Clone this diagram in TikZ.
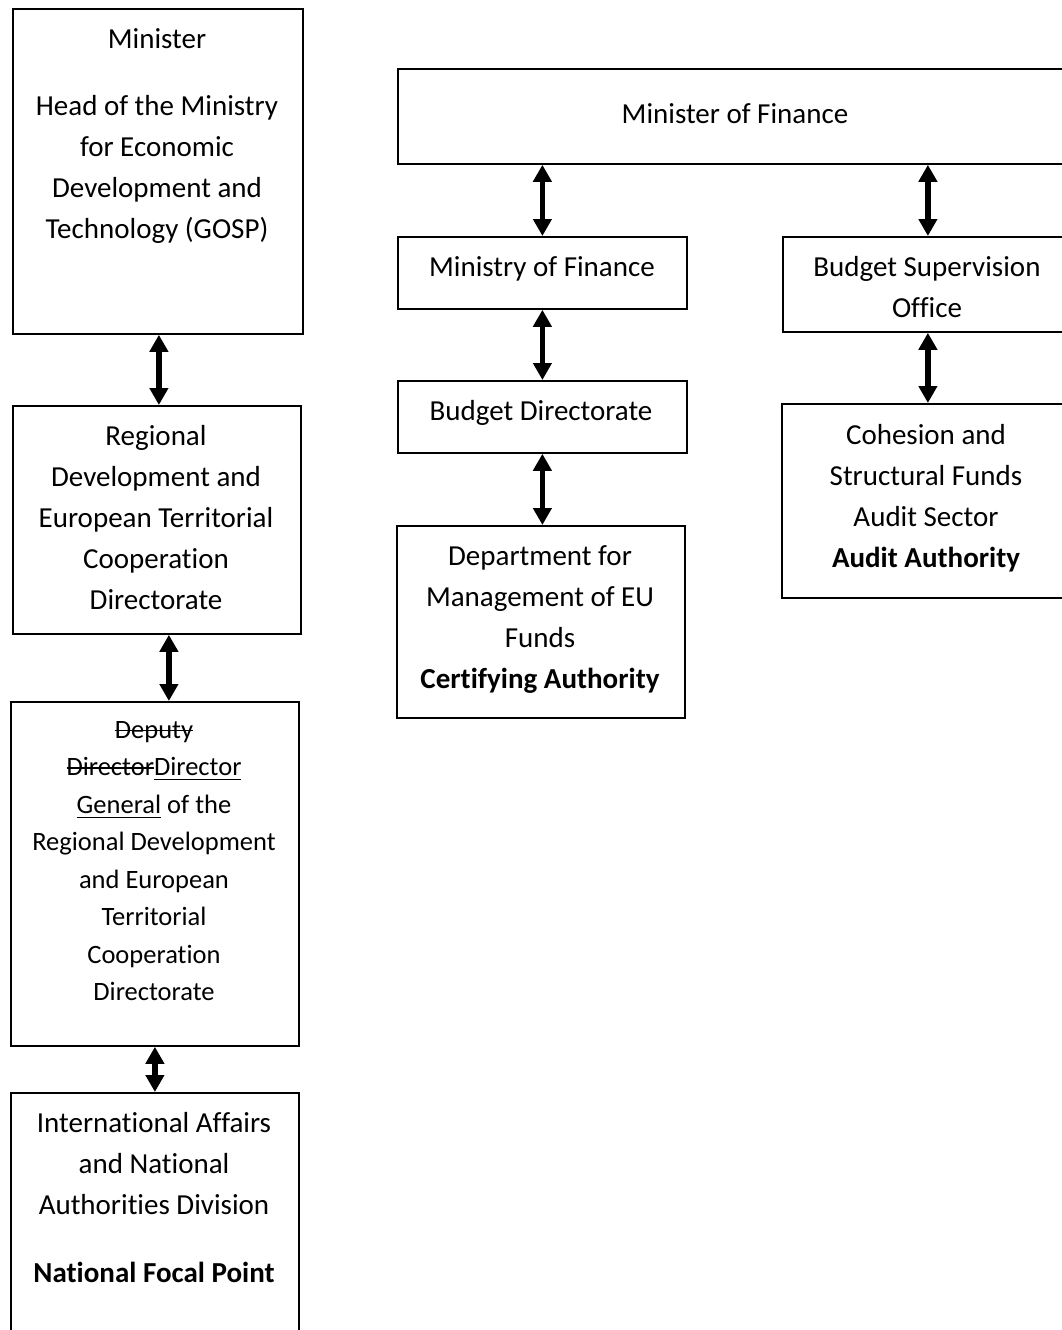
\documentclass[tikz,border=0pt]{standalone}
\usepackage{fontspec}
\setmainfont{Carlito}[Ligatures=NoCommon]
\usetikzlibrary{arrows.meta}
\newcommand{\FL}{\rule{0pt}{30pt}}
\newsavebox{\markbox}
\newcommand{\strk}[1]{\sbox{\markbox}{#1}\rlap{\rule[0.27em]{\wd\markbox}{1.3pt}}\usebox{\markbox}}
\newcommand{\undl}[1]{\sbox{\markbox}{#1}\rlap{\rule[-0.17em]{\wd\markbox}{1.2pt}}\usebox{\markbox}}
\begin{document}
\begin{tikzpicture}[x=1pt,y=-1pt,
  box/.style={draw=black, line width=1.8pt, fill=white, inner sep=0pt, anchor=north west},
  txt/.style={font=\fontsize{29}{41}\selectfont, align=center, inner sep=0pt, anchor=north},
  txts/.style={font=\fontsize{26.5}{37.5}\selectfont, align=center, inner sep=0pt, anchor=north},
  arr/.style={line width=5.5pt, {Triangle[width=18pt,length=17pt]}-{Triangle[width=18pt,length=17pt]}}]
\useasboundingbox (0,0) rectangle (1062,1330);
\clip (0,0) rectangle (1062,1330);
\fill[white] (0,0) rectangle (1062,1330);

% left column boxes
\node[box, minimum width=290pt, minimum height=325pt] (mins) at (12,8) {};
\node[box, minimum width=288pt, minimum height=228pt] (reg) at (12,405) {};
\node[box, minimum width=288pt, minimum height=344pt] (dep) at (10,701) {};
\node[box, minimum width=288pt, minimum height=280pt] (intl) at (10,1092) {};

% right part boxes
\node[box, minimum width=676pt, minimum height=95pt] (mof) at (397,68) {};
\node[box, minimum width=289pt, minimum height=72pt] (mny) at (397,236) {};
\node[box, minimum width=289pt, minimum height=72pt] (bdir) at (397,380) {};
\node[box, minimum width=288pt, minimum height=192pt] (dept) at (396,525) {};
\node[box, minimum width=290pt, minimum height=95pt] (bso) at (782,236) {};
\node[box, minimum width=291pt, minimum height=194pt] (coh) at (781,403) {};

% texts
\node[txt] (tmins) at (157,18) {\FL Minister\\[26pt] Head of the Ministry\\ for Economic\\ Development and\\ Technology (GOSP)};
\node[txt] (treg) at (156,415) {\FL Regional\\ Development and\\ European Territorial\\ Cooperation\\ Directorate};
\node[txts] (tdep) at (154,708) {\FL \strk{Deputy}\\ \strk{Director}\undl{Director}\\ \undl{General} of the\\ Regional Development\\ and European\\ Territorial\\ Cooperation\\ Directorate};
\node[txt] (tintl) at (154,1102) {\FL International Affairs\\ and National\\ Authorities Division\\[27pt] \textbf{National Focal Point}};
\node[txt] (tmof) at (735,93) {\FL Minister of Finance};
\node[txt] (tmny) at (542,246) {\FL Ministry of Finance};
\node[txt] (tbdir) at (541,390) {\FL Budget Directorate};
\node[txt] (tdept) at (540,535) {\FL Department for\\ Management of EU\\ Funds\\ \textbf{Certifying Authority}};
\node[txt] (tbso) at (927,246) {\FL Budget Supervision\\ Office};
\node[txt] (tcoh) at (926,414) {\FL Cohesion and\\ Structural Funds\\ Audit Sector\\ \textbf{Audit Authority}};

% connectors
\draw[arr] ([xshift=1pt]mins.south) -- ([xshift=2pt]reg.north);
\draw[arr] ([xshift=12pt]reg.south) -- ([xshift=14pt]dep.north);
\draw[arr] (dep.south) -- (intl.north);
\draw[arr] (mof.south -| mny.north) -- (mny.north);
\draw[arr] (mof.south -| bso.north) -- (bso.north);
\draw[arr] (mny.south) -- (bdir.north);
\draw[arr] (bdir.south) -- (bdir.south |- dept.north);
\draw[arr] (bso.south) -- (bso.south |- coh.north);
\end{tikzpicture}
\end{document}
